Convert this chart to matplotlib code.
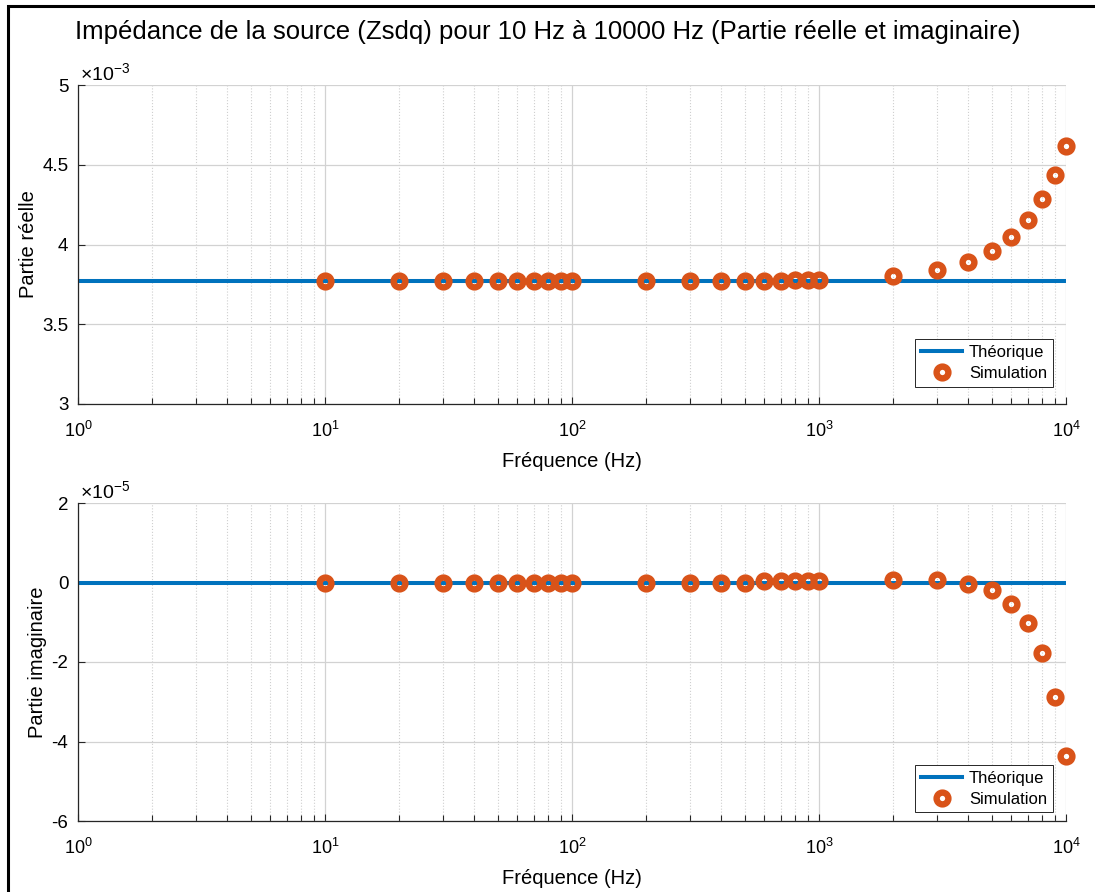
import numpy as np
import matplotlib
matplotlib.use('Agg')
import matplotlib.pyplot as plt
from matplotlib.ticker import FuncFormatter, LogLocator, NullFormatter
from matplotlib.patches import Rectangle

plt.rcParams['font.family'] = ['Liberation Sans', 'DejaVu Sans']
plt.rcParams['mathtext.fontset'] = 'custom'
plt.rcParams['mathtext.rm'] = 'Liberation Sans'
plt.rcParams['mathtext.it'] = 'Liberation Sans:italic'

# %% donnees
freq = [10, 20, 30, 40, 50, 60, 70, 80, 90, 100,
        200, 300, 400, 500, 600, 700, 800, 900, 1000,
        2000, 3000, 4000, 5000, 6000, 7000, 8000, 9000, 10000]

# partie reelle (x1e-3)
reel_sim = [3.773, 3.773, 3.773, 3.773, 3.773, 3.773, 3.773, 3.773, 3.773, 3.773,
            3.773, 3.773, 3.773, 3.773, 3.773, 3.774, 3.775, 3.776, 3.777,
            3.802, 3.837, 3.893, 3.961, 4.048, 4.155, 4.283, 4.438, 4.620]
reel_theo = 3.7725

# partie imaginaire (x1e-5)
imag_sim = [0.0, 0.0, 0.0, 0.0, 0.0, 0.0, 0.0, 0.0, 0.0, 0.0,
            0.0, 0.0, 0.0, 0.0, 0.03, 0.03, 0.03, 0.03, 0.04,
            0.06, 0.06, -0.03, -0.19, -0.53, -1.03, -1.78, -2.87, -4.36]
imag_theo = 0.0

freq_theo = [1, 10000]

blue = '#0072BD'
orange = '#D95319'

fig = plt.figure(figsize=(10.95, 8.92), dpi=100)
fig.patches.append(Rectangle((8 / 1095, -0.1), 1.2, 1.1 - 6 / 892, transform=fig.transFigure,
                             fill=False, edgecolor='black', linewidth=2.2))

W, H = 1095.0, 892.0
ax1 = fig.add_axes([78 / W, 1 - 404 / H, 988 / W, 319 / H])
ax2 = fig.add_axes([78 / W, 1 - 821 / H, 988 / W, 318 / H])


def style(ax, ylim, yticks, scale, expo, ylab, ylab_x, leg_y):
    ax.set_xscale('log')
    ax.set_xlim(1, 10000)
    ax.set_ylim(ylim)
    ax.set_yticks(yticks)
    ax.yaxis.set_major_formatter(FuncFormatter(lambda v, p: '%g' % round(v / scale, 6)))
    ax.xaxis.set_major_locator(LogLocator(base=10, numticks=10))
    ax.xaxis.set_minor_locator(LogLocator(base=10, subs=np.arange(2, 10), numticks=20))
    ax.xaxis.set_minor_formatter(NullFormatter())
    ax.spines['top'].set_visible(False)
    ax.spines['right'].set_visible(False)
    for s in ('left', 'bottom'):
        ax.spines[s].set_color('#262626')
        ax.spines[s].set_linewidth(0.9)
    ax.tick_params(which='major', direction='in', length=5, width=0.8, color='#262626')
    ax.tick_params(which='minor', direction='in', length=4, width=0.8, color='#262626')
    ax.tick_params(axis='x', labelsize=13, pad=12)
    ax.tick_params(axis='y', labelsize=13.5, pad=7)
    ax.grid(True, which='major', color='#d2d2d2', linewidth=0.9)
    ax.grid(True, which='minor', axis='x', color='#cfcfcf', linestyle=':', linewidth=0.8)
    ax.set_axisbelow(True)
    ax.set_xlabel('Fréquence (Hz)', fontsize=14.5)
    ax.set_ylabel(ylab, fontsize=14.5)
    ax.yaxis.set_label_coords(ylab_x, 0.5)
    ax.text(0.002, 1.004, r'$\times10^{%d}$' % expo, transform=ax.transAxes,
            ha='left', va='bottom', fontsize=14)
    leg = ax.legend(loc='lower right', bbox_to_anchor=(0.9868, leg_y), borderaxespad=0,
                    fontsize=12, fancybox=False, framealpha=1, edgecolor='#262626',
                    handlelength=2.5, handletextpad=0.4, labelspacing=0.35,
                    borderpad=0.35)
    leg.get_frame().set_linewidth(0.7)


# %% partie reelle
ax1.plot(freq_theo, [reel_theo * 1e-3] * 2, color=blue, linewidth=2.9, label='Théorique')
ax1.plot(freq, np.array(reel_sim) * 1e-3, linestyle='none', marker='o', markersize=8.5,
         markeredgewidth=4.6, markerfacecolor='none', markeredgecolor=orange,
         clip_on=False, label='Simulation')
style(ax1, (3e-3, 5e-3), np.arange(3e-3, 5.01e-3, 0.5e-3), 1e-3, -3,
      'Partie réelle', -0.040, 0.0533)
ax1.xaxis.set_label_coords(0.5, -0.15)

# %% partie imaginaire
ax2.plot(freq_theo, [imag_theo * 1e-5] * 2, color=blue, linewidth=2.9, label='Théorique')
ax2.plot(freq, np.array(imag_sim) * 1e-5, linestyle='none', marker='o', markersize=8.5,
         markeredgewidth=4.6, markerfacecolor='none', markeredgecolor=orange,
         clip_on=False, label='Simulation')
style(ax2, (-6e-5, 2e-5), np.arange(-6e-5, 2.01e-5, 2e-5), 1e-5, -5,
      'Partie imaginaire', -0.031, 0.027)
ax2.xaxis.set_label_coords(0.5, -0.152)

fig.text(0.5, 1 - 39 / H,
         'Impédance de la source (Zsdq) pour 10 Hz à 10000 Hz (Partie réelle et imaginaire)',
         ha='center', va='baseline', fontsize=18.5)

plt.savefig('out.png', dpi=100)
